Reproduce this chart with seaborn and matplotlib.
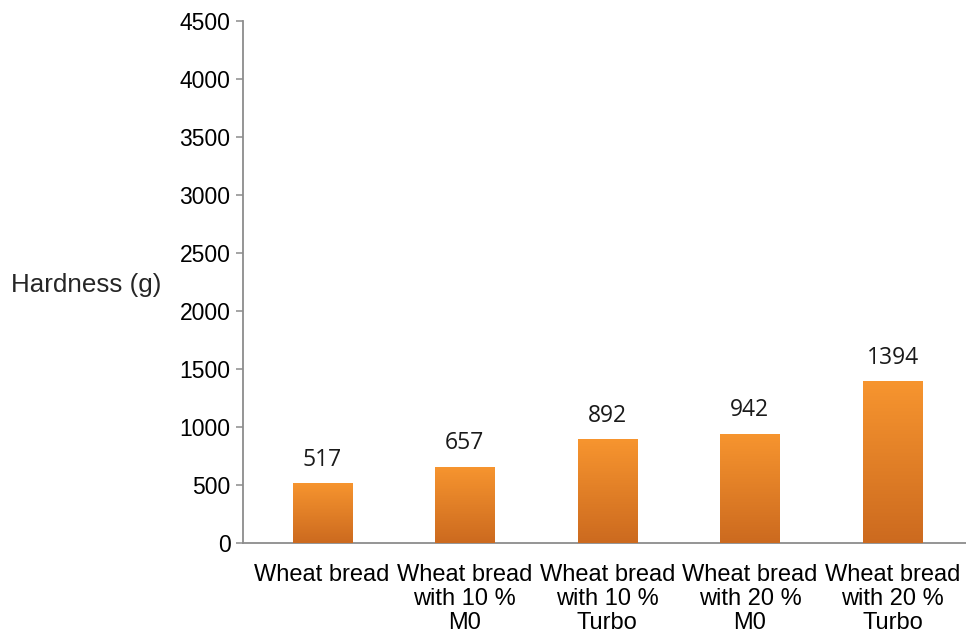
import numpy as np
import pandas as pd
import seaborn as sns
import matplotlib.pyplot as plt
from matplotlib.colors import LinearSegmentedColormap

categories = ["Wheat bread", "Wheat bread\nwith 10 %\nM0", "Wheat bread\nwith 10 %\nTurbo",
              "Wheat bread\nwith 20 %\nM0", "Wheat bread\nwith 20 %\nTurbo"]
hardness = [517, 657, 892, 942, 1394]

df = pd.DataFrame({"sample": categories, "hardness": hardness})

sns.set_theme(style="white")
plt.rcParams['font.family'] = ['Liberation Sans', 'DejaVu Sans']

fig = plt.figure(figsize=(9.66, 6.39), dpi=100)
ax = fig.add_axes([0.2516, 0.1502, 0.7484, 0.8174])

sns.barplot(data=df, x="sample", y="hardness", color="#F28A2A", width=0.414,
            saturation=1, ax=ax, zorder=2)

# vertical gradient on each bar, light on top, darker at bottom
cmap = LinearSegmentedColormap.from_list("orange", ["#CC6A1F", "#F7952F"])
grad = np.linspace(0, 1, 256).reshape(-1, 1)
for p in ax.patches:
    x0, y0 = p.get_x(), p.get_y()
    w, h = p.get_width(), p.get_height()
    im = ax.imshow(grad, cmap=cmap, aspect="auto", origin="lower",
                   extent=[x0, x0 + w, y0, y0 + h], zorder=3)
    im.set_clip_path(p)
    ax.text(x0 + w / 2, h + 150, f"{int(h)}", ha="center", va="baseline",
            fontsize=16.5, family=["Open Sans", "DejaVu Sans"], color="#1a1a1a")

ax.set_xlim(-0.554, 4.515)
ax.set_ylim(0, 4500)
ax.set_yticks(range(0, 4501, 500))
ax.tick_params(axis="y", left=True, length=5, width=1.1, color="#8c8c8c",
               labelsize=16.5, labelcolor="black", pad=4)
ax.tick_params(axis="x", bottom=False, labelsize=17, labelcolor="black", pad=9)
for lab in ax.get_xticklabels():
    lab.set_linespacing(1.12)

for s in ["top", "right"]:
    ax.spines[s].set_visible(False)
for s in ["left", "bottom"]:
    ax.spines[s].set_color("#8c8c8c")
    ax.spines[s].set_linewidth(1.3)

ax.set_xlabel("")
ax.set_ylabel("")
fig.text(0.0115, 0.554, "Hardness (g)", fontsize=18.7, ha="left", va="center")

fig.savefig("out.png", dpi=100)
